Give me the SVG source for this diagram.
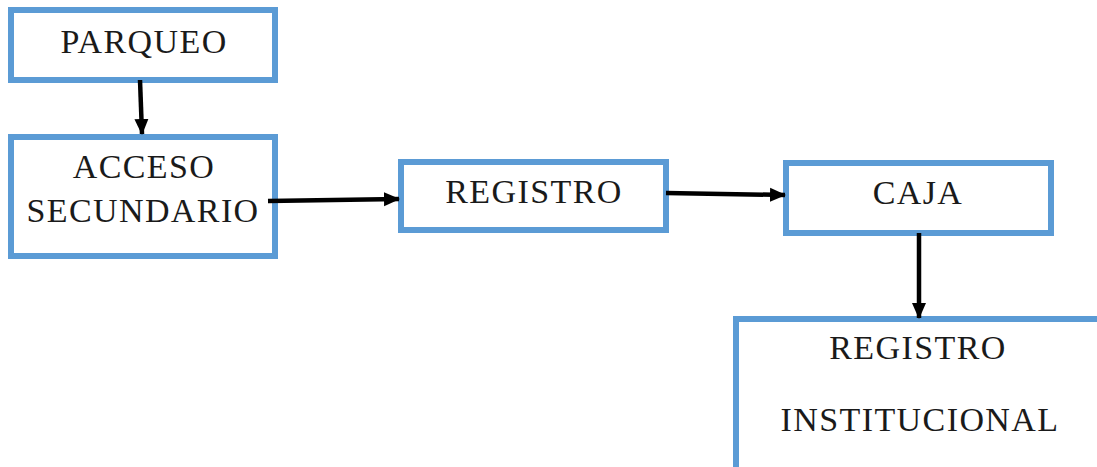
<svg xmlns="http://www.w3.org/2000/svg" width="1097" height="467" viewBox="0 0 1097 467">
  <defs>
    <style>
      .box { fill: #ffffff; stroke: #5b9bd5; stroke-width: 6; }
      .label { font-family: "Liberation Serif", "DejaVu Serif", serif; font-size: 34px; fill: #1a1a1a; text-anchor: middle; letter-spacing: 1.4px; }
      .link { fill: none; stroke: #000000; stroke-width: 4.5; }
    </style>
    <marker id="arrow" markerUnits="userSpaceOnUse" markerWidth="16" markerHeight="16" viewBox="0 0 16 16" refX="15" refY="8" orient="auto">
      <path d="M0,1 L16,8 L0,15 Z" fill="#000000"/>
    </marker>
  </defs>
  <rect width="1097" height="467" fill="#ffffff"/>

  <g id="parqueo">
    <rect class="box" x="11" y="10" width="264" height="70"/>
    <text class="label" x="144" y="53">PARQUEO</text>
  </g>

  <g id="acceso-secundario">
    <rect class="box" x="11" y="137" width="264" height="119"/>
    <text class="label" x="144" y="178">ACCESO</text>
    <text class="label" x="143" y="222">SECUNDARIO</text>
  </g>

  <g id="registro">
    <rect class="box" x="401" y="162" width="265" height="68"/>
    <text class="label" x="534" y="203">REGISTRO</text>
  </g>

  <g id="caja">
    <rect class="box" x="786" y="163" width="265" height="70"/>
    <text class="label" x="918" y="204">CAJA</text>
  </g>

  <g id="registro-institucional">
    <rect class="box" x="736" y="319" width="370" height="160"/>
    <text class="label" x="918" y="359">REGISTRO</text>
    <text class="label" x="920" y="431">INSTITUCIONAL</text>
  </g>

  <g id="connectors">
    <line class="link" x1="140" y1="80" x2="142" y2="134" marker-end="url(#arrow)"/>
    <line class="link" x1="268" y1="201" x2="399" y2="199" marker-end="url(#arrow)"/>
    <line class="link" x1="666" y1="193" x2="785" y2="195" marker-end="url(#arrow)"/>
    <line class="link" x1="919" y1="233" x2="919" y2="318" marker-end="url(#arrow)"/>
  </g>
</svg>
